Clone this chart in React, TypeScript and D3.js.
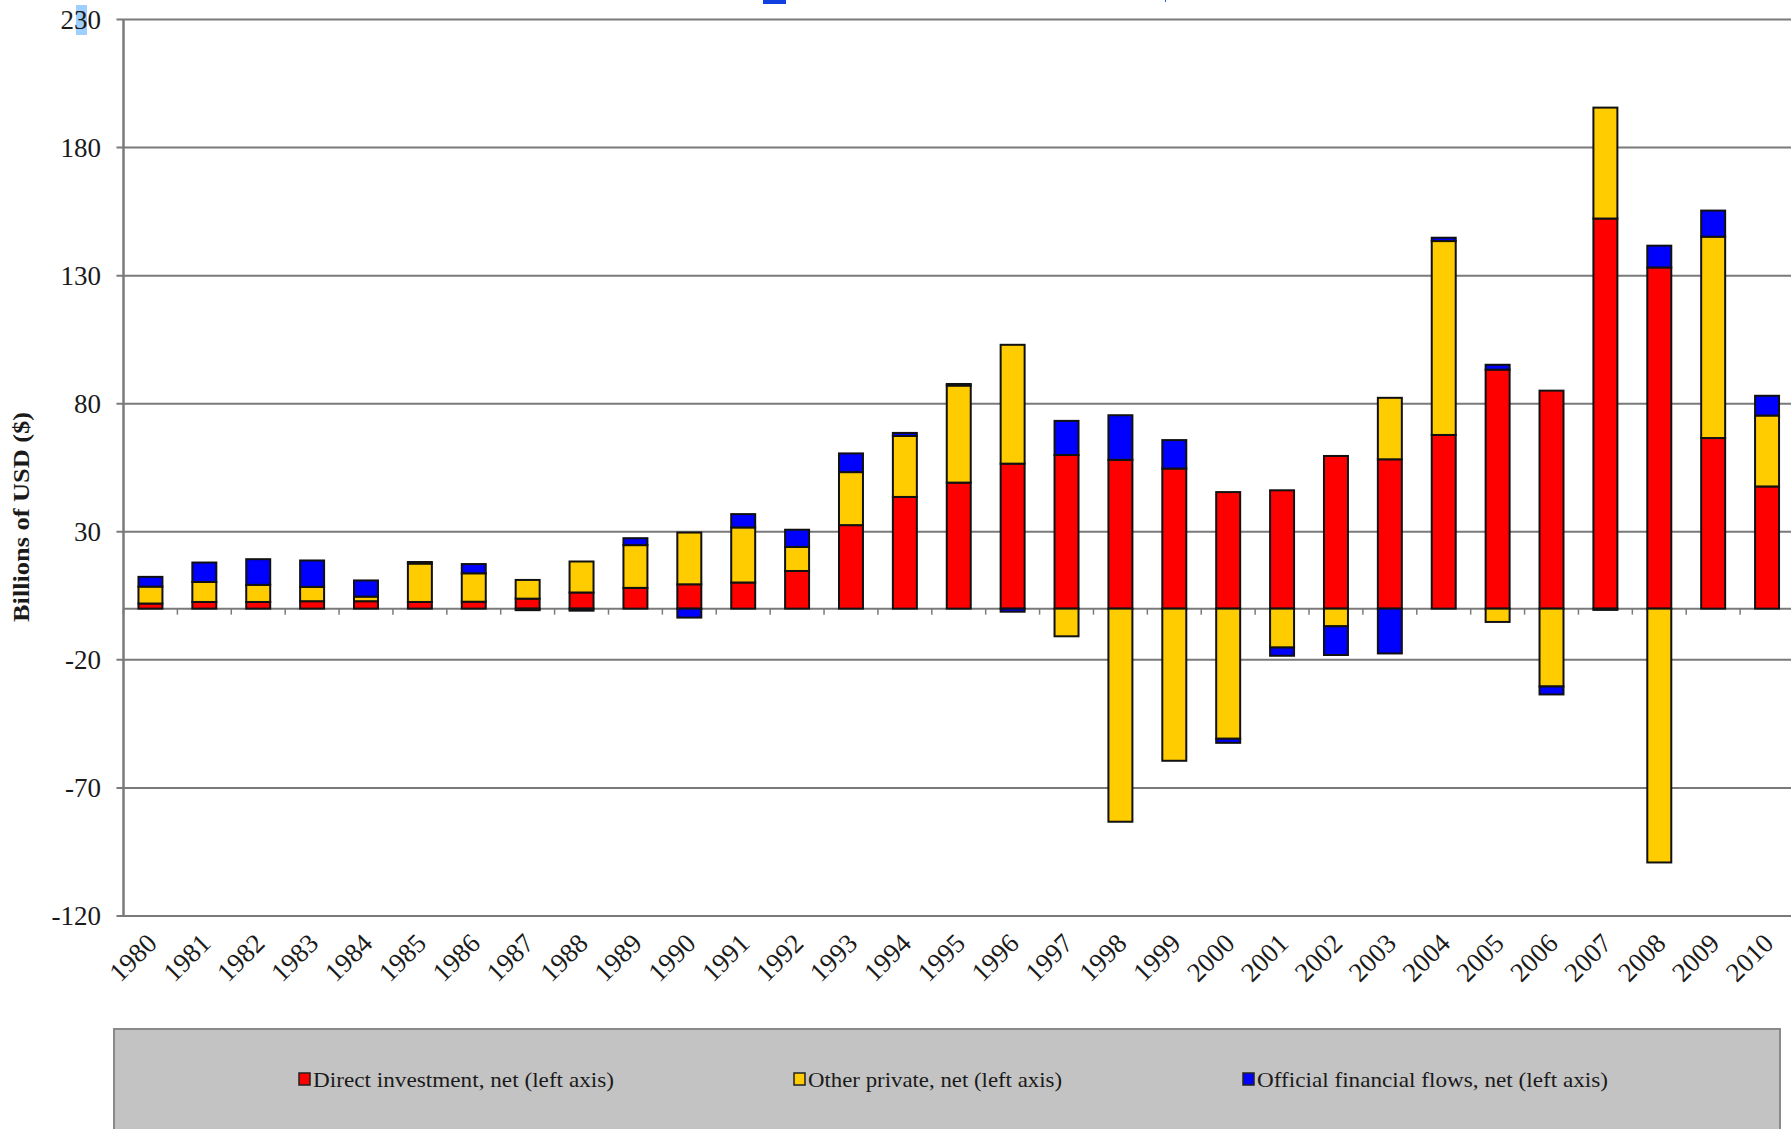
import React from "react";
import * as d3 from "d3";

// Net capital flows by year, billions of USD
const years: number[] = d3.range(1980, 2011);

const directInvestment: number[] = [
  2.0, 2.6, 2.6, 2.9, 2.9, 2.6, 2.7, 3.9, 6.3, 8.1, 9.5, 10.2, 14.7, 32.6, 43.6,
  49.2, 56.6, 60.0, 58.1, 54.7, 45.5, 46.2, 59.6, 58.3, 67.8, 93.3, 85.1, 152.3,
  133.2, 66.6, 47.7,
];

const otherPrivate: number[] = [
  6.6, 7.8, 6.7, 5.6, 1.8, 15.0, 11.1, 7.3, 12.1, 16.7, 20.2, 21.5, 9.4, 20.7,
  23.8, 37.9, 46.4, -10.8, -83.2, -59.4, -50.8, -15.2, -6.9, 24.0, 75.7, -5.2,
  -30.4, 43.3, -99.1, 78.6, 27.7,
];

const officialFlows: number[] = [
  3.8, 7.6, 10.0, 10.3, 6.3, 0.6, 3.6, -0.6, -0.8, 2.7, -3.5, 5.2, 6.7, 7.3, 1.2,
  0.6, -1.2, 13.3, 17.4, 11.1, -1.6, -3.2, -11.2, -17.5, 1.3, 1.9, -3.1, -0.5,
  8.5, 10.2, 7.7,
];

const seriesKeys = ["direct", "other", "official"] as const;
const seriesLabels: string[] = [
  "Direct investment, net  (left axis)",
  "Other private, net (left axis)",
  "Official financial flows, net  (left axis)",
];
const seriesColors: string[] = ["#ff0000", "#ffcc00", "#0000ff"];

const yTicks: number[] = [230, 180, 130, 80, 30, -20, -70, -120];

const W = 1791;
const H = 1129;
const plot = { left: 123.5, right: 1794, top: 19.5, bottom: 916 };

export default function App() {
  const rows = years.map((y, i) => ({
    year: y,
    direct: directInvestment[i],
    other: otherPrivate[i],
    official: officialFlows[i],
  }));

  const stacked = d3
    .stack<any>()
    .keys(seriesKeys as unknown as string[])
    .offset(d3.stackOffsetDiverging)(rows);

  const x = d3
    .scaleBand<number>()
    .domain(years)
    .range([plot.left, plot.right])
    .paddingInner(0.555)
    .paddingOuter(0.2775);

  const y = d3.scaleLinear().domain([-120, 230]).range([plot.bottom, plot.top]);

  const font = "'Liberation Serif', 'Times New Roman', serif";
  const gridColor = "#7a7a7a";
  const step = x.step();

  return (
    <svg
      width={W}
      height={H}
      style={{ position: "absolute", left: 0, top: 0, background: "#fff" }}
    >
      {/* selection highlights left over at the top edge */}
      <rect x={76} y={5} width={11} height={30} fill="#9fcfff" />
      <rect x={763} y={0} width={23} height={4} fill="#1040e0" />
      <rect x={1165} y={0} width={1} height={2} fill="#3060ff" />

      {/* horizontal gridlines and left ticks */}
      {yTicks.map((t) => (
        <g key={t}>
          <line
            x1={plot.left - 7}
            x2={W}
            y1={y(t)}
            y2={y(t)}
            stroke={gridColor}
            strokeWidth={2}
          />
          <text
            x={101}
            y={y(t)}
            dy="0.35em"
            textAnchor="end"
            fontFamily={font}
            fontSize={27}
            fill="#1a1a1a"
          >
            {t}
          </text>
        </g>
      ))}

      {/* left axis */}
      <line
        x1={plot.left}
        x2={plot.left}
        y1={y(230)}
        y2={y(-120)}
        stroke={gridColor}
        strokeWidth={2.5}
      />

      {/* zero line with category ticks */}
      <line
        x1={plot.left}
        x2={W}
        y1={y(0)}
        y2={y(0)}
        stroke={gridColor}
        strokeWidth={2}
      />
      {years.map((yr) => (
        <line
          key={"t" + yr}
          x1={(x(yr) as number) - (step - x.bandwidth()) / 2}
          x2={(x(yr) as number) - (step - x.bandwidth()) / 2}
          y1={y(0)}
          y2={y(0) + 6}
          stroke={gridColor}
          strokeWidth={1.5}
        />
      ))}

      {/* stacked bars */}
      {stacked.map((layer, si) => (
        <g key={layer.key} fill={seriesColors[si]} stroke="#111" strokeWidth={2}>
          {layer.map((d: any, i: number) => {
            const y0 = y(d[0]);
            const y1 = y(d[1]);
            const top = Math.min(y0, y1);
            const h = Math.abs(y1 - y0);
            if (h < 0.01) return null;
            return (
              <rect
                key={i}
                x={x(years[i]) as number}
                y={top}
                width={x.bandwidth()}
                height={h}
              />
            );
          })}
        </g>
      ))}

      {/* year labels */}
      {years.map((yr) => {
        const cx = (x(yr) as number) + x.bandwidth() / 2 + 8;
        const cy = plot.bottom + 29;
        return (
          <text
            key={"l" + yr}
            transform={`translate(${cx},${cy}) rotate(-45)`}
            textAnchor="end"
            fontFamily={font}
            fontSize={27}
            fill="#1a1a1a"
          >
            {yr}
          </text>
        );
      })}

      {/* axis title */}
      <text
        transform={`translate(29,517) rotate(-90)`}
        textAnchor="middle"
        fontFamily={font}
        fontWeight="bold"
        fontSize={23}
        textLength={210}
        lengthAdjust="spacingAndGlyphs"
        fill="#1a1a1a"
      >
        Billions of USD ($)
      </text>

      {/* legend */}
      <rect
        x={114}
        y={1029}
        width={1666}
        height={140}
        fill="#c3c3c3"
        stroke="#8a8a8a"
        strokeWidth={2}
      />
      {seriesLabels.map((label, i) => {
        const mx = [299, 794, 1243][i];
        const tw = [301, 254, 351][i];
        return (
          <g key={label}>
            <rect
              x={mx}
              y={1073}
              width={11}
              height={12}
              fill={seriesColors[i]}
              stroke="#222"
              strokeWidth={1.5}
            />
            <text
              x={mx + 14}
              y={1087}
              fontFamily={font}
              fontSize={22}
              textLength={tw}
              lengthAdjust="spacingAndGlyphs"
              fill="#1a1a1a"
            >
              {label}
            </text>
          </g>
        );
      })}
    </svg>
  );
}
